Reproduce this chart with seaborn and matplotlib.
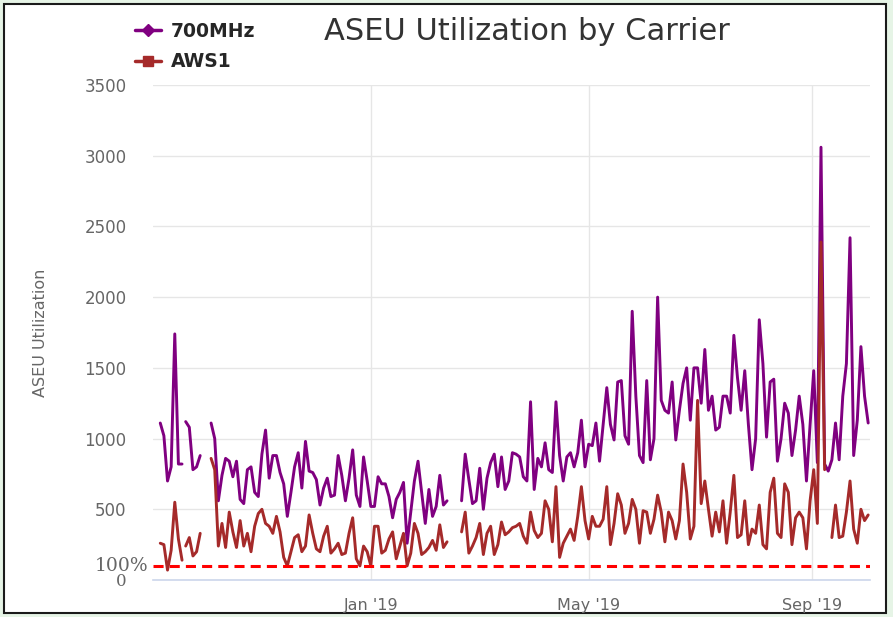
import numpy as np
import pandas as pd
import matplotlib.pyplot as plt
from matplotlib.lines import Line2D
from matplotlib.patches import Rectangle
import seaborn as sns

# ---- data (one sample every 2 days) ----
seg_start = ['2018-09-07', '2018-09-21', '2018-10-05', '2019-02-20']

mhz700_s1 = [1110, 1020, 700, 800, 1740, 820, 820]
mhz700_s2 = [1120, 1080, 780, 800, 880]
mhz700_s3 = [1110, 1000, 560, 740, 860, 840, 730, 840, 570, 540,
             780, 800, 620, 590, 890, 1060, 720, 880, 880, 760,
             680, 450, 620, 800, 900, 650, 980, 770, 760, 710,
             530, 650, 720, 590, 600, 880, 740, 560, 720, 920,
             600, 520, 870, 700, 520, 520, 730, 680, 680, 590,
             440, 570, 620, 690, 260, 480, 700, 840, 620, 400,
             640, 450, 520, 740, 530, 560]
mhz700_s4 = [560, 890, 710, 540, 560, 790, 500, 720, 830, 890,
             660, 870, 640, 700, 900, 890, 870, 730, 700, 1260,
             640, 860, 800, 970, 780, 760, 1260, 880, 700, 870,
             900, 800, 900, 1130, 800, 960, 950, 1110, 840, 1100,
             1360, 1100, 990, 1400, 1410, 1020, 960, 1900, 1300, 880,
             830, 1410, 850, 1000, 2000, 1270, 1200, 1180, 1400, 990,
             1200, 1390, 1500, 1130, 1500, 1500, 1250, 1630, 1200, 1300,
             1060, 1080, 1300, 1300, 1180, 1730, 1430, 1200, 1480, 1100,
             780, 1000, 1840, 1530, 1010, 1400, 1420, 840, 1000, 1250,
             1180, 880, 1060, 1300, 1100, 700, 1100, 1480, 830, 3060,
             820, 770, 850, 1110, 850, 1300, 1530, 2420, 880, 1130,
             1650, 1300, 1110]

aws1_s1 = [260, 250, 70, 210, 550, 290, 140]
aws1_s2 = [240, 300, 170, 200, 330]
aws1_s3 = [860, 780, 240, 400, 230, 480, 340, 230, 420, 240,
           330, 200, 380, 470, 500, 400, 380, 330, 450, 340,
           160, 100, 200, 300, 320, 200, 240, 460, 330, 220,
           200, 310, 380, 190, 220, 260, 180, 190, 330, 440,
           150, 100, 240, 200, 100, 380, 380, 190, 210, 290,
           340, 150, 240, 330, 100, 190, 400, 330, 180, 200,
           230, 280, 210, 390, 230, 270]
aws1_s4 = [340, 480, 190, 240, 300, 400, 180, 330, 380, 180,
           250, 410, 320, 340, 370, 380, 400, 310, 260, 480,
           350, 300, 330, 560, 500, 270, 660, 160, 260, 310,
           360, 280, 450, 660, 420, 290, 450, 380, 380, 430,
           660, 250, 400, 610, 530, 330, 400, 570, 500, 260,
           490, 480, 330, 430, 600, 480, 270, 480, 420, 290,
           420, 820, 620, 290, 380, 1270, 540, 700, 500, 310,
           480, 340, 560, 260, 480, 740, 300, 320, 560, 250,
           360, 330, 530, 250, 220, 620, 720, 330, 300, 680,
           620, 250, 440, 480, 440, 220, 560, 780, 400, 2390,
           780, np.nan, 300, 530, 300, 310, 480, 700, 360, 260,
           500, 420, 460]

carriers = ['700MHz', 'AWS1']
colors = {'700MHz': '#800080', 'AWS1': '#a52a2a'}
series = {'700MHz': [mhz700_s1, mhz700_s2, mhz700_s3, mhz700_s4],
          'AWS1': [aws1_s1, aws1_s2, aws1_s3, aws1_s4]}

xtick_dates = ['2019-01-01', '2019-05-01', '2019-09-01']
xtick_labels = ["Jan '19", "May '19", "Sep '19"]
yticks = [0, 500, 1000, 1500, 2000, 2500, 3000, 3500]

# build long table, NaN splits a segment into separate pieces
frames = []
for carrier in carriers:
    for k, (start, vals) in enumerate(zip(seg_start, series[carrier])):
        vals = np.array(vals, dtype=float)
        dates = pd.date_range(start, periods=len(vals), freq='2D')
        piece = np.cumsum(np.isnan(vals))
        f = pd.DataFrame({'date': dates, 'value': vals, 'carrier': carrier,
                          'unit': [f'{k}-{p}' for p in piece]})
        frames.append(f.dropna(subset=['value']))
df = pd.concat(frames, ignore_index=True)

# ---- plot ----
sns.set_theme(style='white')
plt.rcParams['font.family'] = ['DejaVu Sans']

W, H = 893, 617
fig = plt.figure(figsize=(W / 100, H / 100), dpi=100)
fig.patch.set_facecolor('#e6f4e6')
fig.patches.append(Rectangle((4 / W, 4 / H), 882 / W, 609 / H, transform=fig.transFigure,
                             facecolor='white', edgecolor='#1a1a1a', lw=1.5, zorder=-10))

ax = fig.add_axes([153 / W, 1 - 580 / H, (870 - 153) / W, (580 - 85) / H])
ax.set_facecolor('none')

sns.lineplot(data=df, x='date', y='value', hue='carrier', hue_order=carriers,
             units='unit', estimator=None, palette=colors, lw=2.1,
             legend=False, ax=ax)

ax.axhline(100, color='#ff0000', lw=2.2, dashes=(3.3, 2.0), zorder=5)
ax.text(-0.007, 100, '100%', transform=ax.get_yaxis_transform(), ha='right', va='center',
        fontsize=13.5, family='DejaVu Serif', color='#666666')

ax.set_ylim(0, 3500)
ax.set_xlim(pd.Timestamp('2018-09-03'), pd.Timestamp('2019-10-03'))
ax.set_yticks(yticks)
ax.set_yticklabels([str(v) for v in yticks])
ax.set_xticks([pd.Timestamp(d) for d in xtick_dates])
ax.set_xticklabels(xtick_labels)
ax.tick_params(axis='y', length=0, pad=19, labelsize=12, labelcolor='#666666')
ax.tick_params(axis='x', length=0, pad=13, labelsize=11.5, labelcolor='#666666')
ax.get_yticklabels()[0].set_family('DejaVu Serif')

ax.grid(True, color='#e6e6e6', lw=1)
for s in ['top', 'right', 'left']:
    ax.spines[s].set_visible(False)
ax.spines['bottom'].set_color('#ccd6eb')
ax.spines['bottom'].set_linewidth(1.2)

ax.set_xlabel('')
ax.set_ylabel('ASEU Utilization', fontsize=11.5, color='#666666')
ax.yaxis.set_label_coords(-0.146, 0.5)

fig.text(527 / W, 1 - 31 / H, 'ASEU Utilization by Carrier', ha='center', va='center',
         fontsize=22, color='#333333')

handles = [Line2D([], [], color=colors['700MHz'], lw=2.5, marker='D', markersize=6),
           Line2D([], [], color=colors['AWS1'], lw=2.5, marker='s', markersize=7)]
fig.legend(handles, carriers, loc='upper left', bbox_to_anchor=(135 / W, 1 - 22 / H),
           frameon=False, handlelength=1.4, handletextpad=0.5, labelspacing=0.6,
           prop={'weight': 'bold', 'size': 13.5}, borderaxespad=0, borderpad=0)

fig.savefig('out.png', dpi=100, facecolor=fig.get_facecolor())
